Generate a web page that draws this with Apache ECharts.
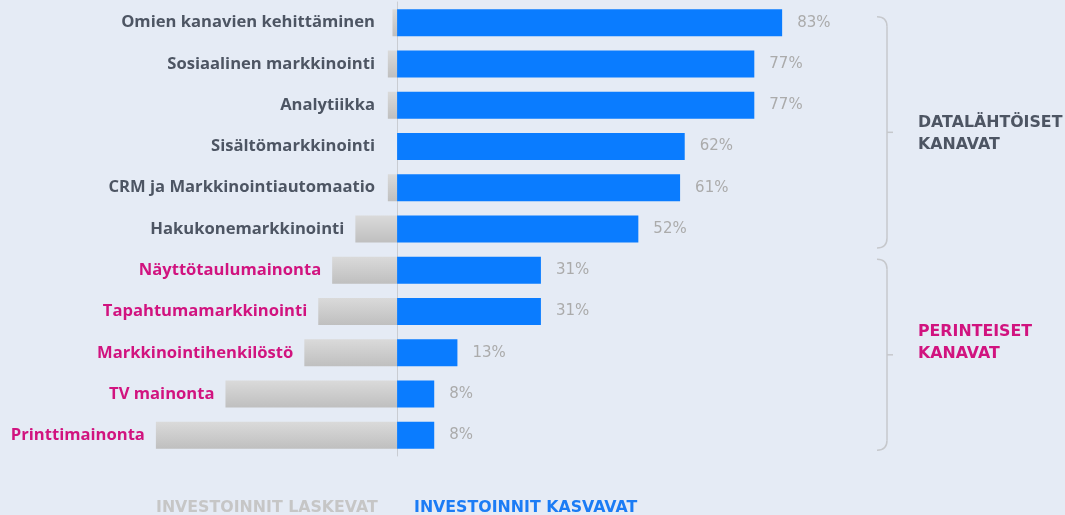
<!DOCTYPE html>
<html>
<head>
<meta charset="utf-8">
<script src="https://cdn.jsdelivr.net/npm/echarts@6/dist/echarts.min.js"></script>
<style>
  html, body { margin: 0; padding: 0; background: #e5ebf5; }
  #main { width: 1065px; height: 515px; }
</style>
</head>
<body>
<div id="main"></div>
<script>
// kanavat ylhäältä alas
var categories = ['Omien kanavien kehittäminen', 'Sosiaalinen markkinointi', 'Analytiikka',
  'Sisältömarkkinointi', 'CRM ja Markkinointiautomaatio', 'Hakukonemarkkinointi',
  'Näyttötaulumainonta', 'Tapahtumamarkkinointi', 'Markkinointihenkilöstö',
  'TV mainonta', 'Printtimainonta'];
var kasvavat = [83, 77, 77, 62, 61, 52, 31, 31, 13, 8, 8];
var laskevat = [1, 2, 2, 0, 2, 9, 14, 17, 20, 37, 52];
var ryhmat = [
  { name: 'DATALÄHTÖISET\nKANAVAT', from: 0, to: 5, color: '#4d5563' },
  { name: 'PERINTEISET\nKANAVAT', from: 6, to: 10, color: '#d1137f' }
];

var font = '"Open Sans", sans-serif';
var leveä = '"DejaVu Sans", sans-serif';
var myChart = echarts.init(document.getElementById('main'));

// nimet harmaan palkin vasemmalle puolelle
var nimiData = categories.map(function (c, i) {
  return {
    value: -Math.max(laskevat[i], 2.4),
    label: { color: i < 6 ? '#4d5563' : '#d1137f' }
  };
});

var option = {
  backgroundColor: '#e5ebf5',
  animation: false,
  grid: { left: 26, right: 204, top: 2, bottom: 59 },
  xAxis: {
    type: 'value', min: -80, max: 100,
    show: false
  },
  yAxis: {
    type: 'category',
    data: categories,
    inverse: true,
    axisTick: { show: false },
    axisLabel: { show: false },
    axisLine: { onZero: true, lineStyle: { color: '#c9ccd2', width: 1 } }
  },
  series: [{
    name: 'laskevat',
    type: 'bar',
    barWidth: 27,
    barGap: '-100%',
    data: laskevat.map(function (v) { return -v; }),
    itemStyle: {
      color: new echarts.graphic.LinearGradient(0, 0, 0, 1, [
        { offset: 0, color: '#dadada' },
        { offset: 1, color: '#bfbfbf' }
      ])
    }
  }, {
    name: 'kasvavat',
    type: 'bar',
    barWidth: 27,
    barGap: '-100%',
    data: kasvavat,
    itemStyle: { color: '#0a7cff' },
    label: {
      show: true,
      position: 'right',
      distance: 15,
      formatter: '{c}%',
      color: '#ababab',
      fontFamily: leveä,
      fontSize: 15
    }
  }, {
    name: 'nimet',
    type: 'bar',
    barWidth: 27,
    barGap: '-100%',
    silent: true,
    data: nimiData,
    itemStyle: { color: 'transparent' },
    label: {
      show: true,
      position: 'left',
      distance: 11,
      formatter: function (p) { return p.name; },
      fontFamily: font,
      fontWeight: 'bold',
      fontSize: 16.6
    }
  }]
};
myChart.setOption(option);

// sulkeet ja ryhmien nimet
var graphic = [];
var viiva = { stroke: '#c6c8cc', lineWidth: 1.5 };
ryhmat.forEach(function (g, k) {
  var y1 = myChart.convertToPixel({ yAxisIndex: 0 }, categories[g.from]) - (k === 0 ? 6 : 11);
  var y2 = myChart.convertToPixel({ yAxisIndex: 0 }, categories[g.to]) + (k === 0 ? 19 : 15);
  var x = 887, mid = (y1 + y2) / 2;
  graphic.push({
    type: 'bezierCurve',
    shape: { x1: x - 10, y1: y1, cpx1: x, cpy1: y1, x2: x, y2: y1 + 10 },
    style: viiva
  });
  graphic.push({
    type: 'line',
    shape: { x1: x, y1: y1 + 10, x2: x, y2: y2 - 10 },
    style: viiva
  });
  graphic.push({
    type: 'bezierCurve',
    shape: { x1: x, y1: y2 - 10, cpx1: x, cpy1: y2, x2: x - 10, y2: y2 },
    style: viiva
  });
  graphic.push({
    type: 'line',
    shape: { x1: x, y1: mid, x2: x + 6, y2: mid },
    style: viiva
  });
  graphic.push({
    type: 'text',
    left: 918,
    top: mid - (k === 0 ? 20 : 34),
    style: {
      text: g.name,
      fill: g.color,
      font: 'bold 15.8px ' + leveä,
      lineHeight: 22
    }
  });
});
graphic.push({
  type: 'text', left: 156, top: 500,
  style: { text: 'INVESTOINNIT LASKEVAT', fill: '#c6c6c6', font: 'bold 15.8px ' + leveä }
});
graphic.push({
  type: 'text', left: 414, top: 500,
  style: { text: 'INVESTOINNIT KASVAVAT', fill: '#1b7cf5', font: 'bold 15.8px ' + leveä }
});
myChart.setOption({ graphic: graphic });
</script>
</body>
</html>
